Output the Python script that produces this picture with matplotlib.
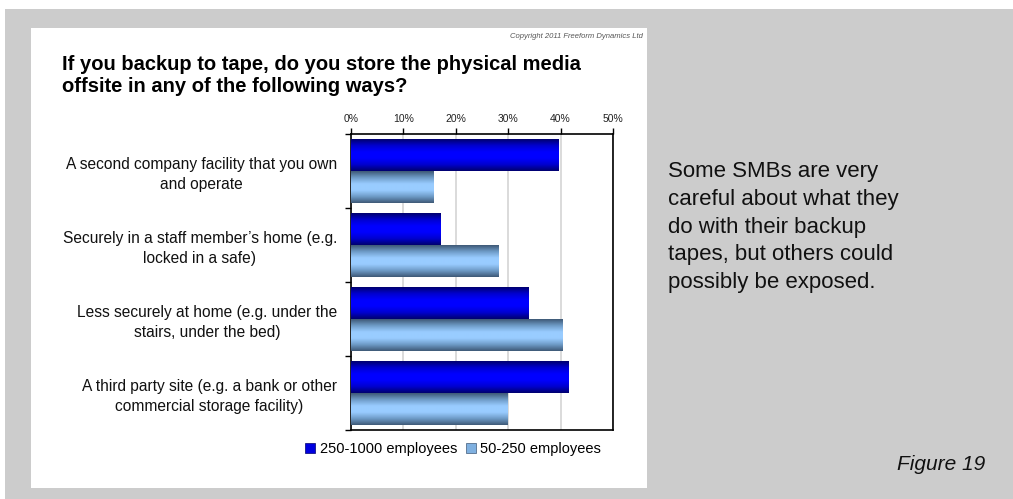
import numpy as np
import matplotlib.pyplot as plt
from matplotlib.patches import Rectangle
from matplotlib.colors import LinearSegmentedColormap

plt.rcParams['font.family'] = ['Liberation Sans', 'DejaVu Sans']

categories = [
    'A second company facility that you own\nand operate',
    'Securely in a staff member\u2019s home (e.g.\nlocked in a safe)',
    'Less securely at home (e.g. under the\nstairs, under the bed)',
    'A third party site (e.g. a bank or other\ncommercial storage facility)',
]
large = [39.6, 17.0, 33.9, 41.5]   # 250-1000 employees
small = [15.8, 28.2, 40.3, 29.9]   # 50-250 employees
series_names = ['250-1000 employees', '50-250 employees']
ticks = [0, 10, 20, 30, 40, 50]

fig = plt.figure(figsize=(10.13, 4.99), dpi=100)
fig.patch.set_facecolor('white')

# grey slide area and white chart card
fig.add_artist(Rectangle((5 / 1013, 0), 1, 1 - 9 / 499, transform=fig.transFigure,
                         facecolor='#cccccc', edgecolor='none', zorder=-10))
fig.add_artist(Rectangle((31 / 1013, 1 - 488 / 499), (647 - 31) / 1013, (488 - 28) / 499,
                         transform=fig.transFigure, facecolor='white',
                         edgecolor='none', zorder=-9))

ax = fig.add_axes([351 / 1013, 1 - 430 / 499, (613 - 351) / 1013, (430 - 134) / 499])

y = np.arange(len(categories))
h = 0.43
bars_large = ax.barh(y - h / 2, large, height=h, color='#0000ff', zorder=2)
bars_small = ax.barh(y + h / 2, small, height=h, color='#99ccff', zorder=2)

# cylinder-like shading across each bar
blue_cmap = LinearSegmentedColormap.from_list('b', ['#000070', '#0000d0', '#0000ff', '#0000ff', '#0000d0', '#000070'])
light_cmap = LinearSegmentedColormap.from_list('l', ['#3f5a78', '#6f9cc8', '#99ccff', '#99ccff', '#6f9cc8', '#3f5a78'])
grad = np.linspace(0, 1, 64).reshape(-1, 1)
for bars, cmap in [(bars_large, blue_cmap), (bars_small, light_cmap)]:
    for b in bars:
        x0, y0, w, hh = b.get_x(), b.get_y(), b.get_width(), b.get_height()
        im = ax.imshow(grad, cmap=cmap, aspect='auto', extent=(x0, x0 + w, y0 + hh, y0),
                       zorder=3, interpolation='bilinear')
        im.set_clip_path(b)

ax.set_xlim(0, 50)
ax.set_ylim(len(categories) - 0.5, -0.5)
ax.xaxis.tick_top()
ax.set_xticks(ticks)
ax.set_xticklabels([f'{t}%' for t in ticks], fontsize=7.5, color='#222222')
ax.tick_params(axis='x', direction='out', length=4, width=1, pad=3)
ax.grid(axis='x', color='#d4d4d4', linewidth=1.2, zorder=0)

ax.set_yticks(y)
ax.set_yticklabels(categories, fontsize=11.2, multialignment='center',
                   color='#111111', linespacing=1.35)
ax.set_yticks(np.arange(len(categories) + 1) - 0.5, minor=True)
ax.tick_params(axis='y', which='major', length=0, pad=10)
ax.tick_params(axis='y', which='minor', direction='out', length=4, width=1)
for s in ax.spines.values():
    s.set_linewidth(1.2)
    s.set_color('black')

leg_handles = [Rectangle((0, 0), 1, 1, facecolor='#0000e0', edgecolor='#00006e', linewidth=0.5),
               Rectangle((0, 0), 1, 1, facecolor='#7fb0e0', edgecolor='#3f5a78', linewidth=0.5)]
fig.legend(leg_handles, series_names, loc='center', bbox_to_anchor=(453 / 1013, 1 - 449 / 499),
           ncol=2, frameon=False, fontsize=10.5, handlelength=0.7, handleheight=0.7,
           handletextpad=0.3, columnspacing=0.6)

fig.text(62 / 1013, 1 - 75 / 499,
         'If you backup to tape, do you store the physical media\noffsite in any of the following ways?',
         fontsize=14.5, fontweight='bold', ha='left', va='center', linespacing=1.2)
fig.text(643 / 1013, 1 - 36 / 499, 'Copyright 2011 Freeform Dynamics Ltd',
         fontsize=5.5, style='italic', color='#555555', ha='right', va='center')

fig.text(668 / 1013, 1 - 227 / 499,
         'Some SMBs are very\ncareful about what they\ndo with their backup\ntapes, but others could\npossibly be exposed.',
         fontsize=16, ha='left', va='center', linespacing=1.42, color='#111111')
fig.text(985 / 1013, 1 - 465 / 499, 'Figure 19', fontsize=15, style='italic',
         ha='right', va='center', color='#111111')

fig.savefig('out.png', dpi=100)
